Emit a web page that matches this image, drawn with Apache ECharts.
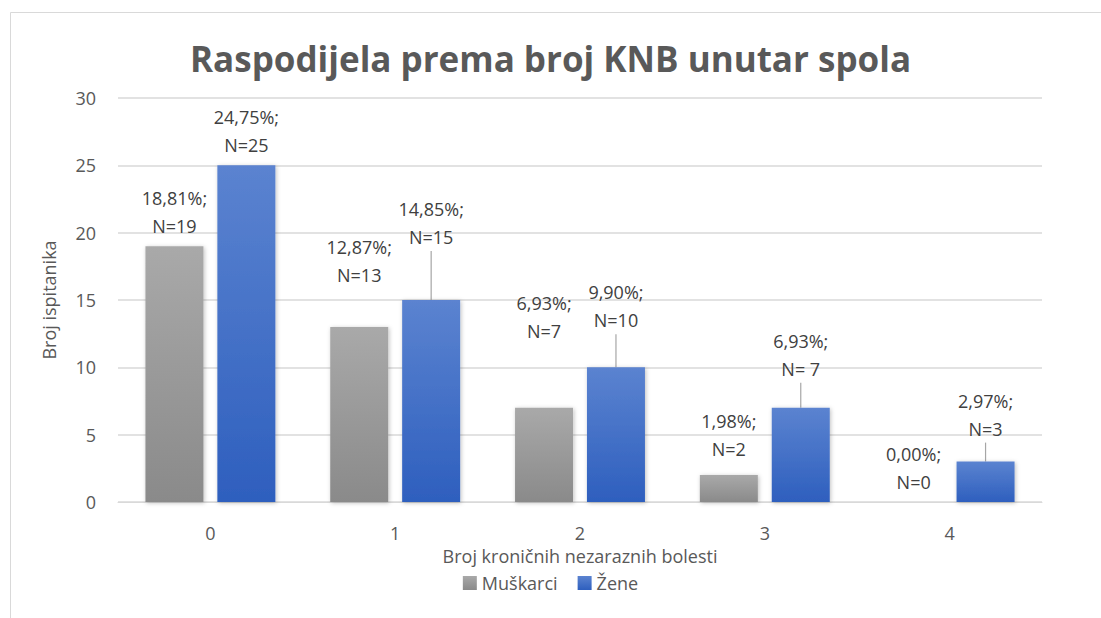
<!DOCTYPE html>
<html>
<head>
<meta charset="utf-8">
<script src="https://cdn.jsdelivr.net/npm/echarts@6/dist/echarts.min.js"></script>
<style>
  html, body { margin: 0; padding: 0; background: #fff; }
  #chart { width: 1101px; height: 618px; }
</style>
</head>
<body>
<div id="chart"></div>
<script>
var categories = ['0', '1', '2', '3', '4'];
var men = [19, 13, 7, 2, 0];
var women = [25, 15, 10, 7, 3];
var menPct = ['18,81%', '12,87%', '6,93%', '1,98%', '0,00%'];
var womenPct = ['24,75%', '14,85%', '9,90%', '6,93%', '2,97%'];
var womenN = ['N=25', 'N=15', 'N=10', 'N= 7', 'N=3'];
// label shifts (px)
var menShift = [0, -32, -57, -6, 0];
var womenShift = [0, -43, -27, -19, -13];

var font = '"Open Sans", "Liberation Sans", sans-serif';
var ink = '#404040';
var muted = '#595959';
var rule = '#d9d9d9';

var chart = echarts.init(document.getElementById('chart'), null, { renderer: 'svg' });

function grad(top, bottom) {
  return new echarts.graphic.LinearGradient(0, 0, 0, 1, [
    { offset: 0, color: top }, { offset: 1, color: bottom }
  ]);
}

var womenData = women.map(function(v, i) {
  return { value: v, labelLine: { show: womenShift[i] !== 0 } };
});

chart.setOption({
  animation: false,
  textStyle: { fontFamily: font },
  graphic: [{
    type: 'rect',
    shape: { x: 10.5, y: 12.5, width: 1200, height: 700 },
    style: { fill: 'none', stroke: rule, lineWidth: 1 },
    silent: true
  }],
  title: {
    text: 'Raspodijela prema broj KNB unutar spola',
    left: 'center',
    top: 36,
    textStyle: { fontFamily: font, fontSize: 35, fontWeight: 'bold', color: muted }
  },
  legend: {
    bottom: 21,
    left: 'center',
    itemWidth: 14,
    itemHeight: 14,
    itemGap: 20,
    icon: 'rect',
    textStyle: { fontFamily: font, fontSize: 18, color: muted },
    data: ['Muškarci', 'Žene']
  },
  grid: { left: 118, right: 59, top: 98, bottom: 116 },
  xAxis: {
    type: 'category',
    data: categories,
    name: 'Broj kroničnih nezaraznih bolesti',
    nameLocation: 'middle',
    nameGap: 45,
    nameTextStyle: { fontFamily: font, fontSize: 18, color: muted },
    axisLine: { lineStyle: { color: rule } },
    axisTick: { show: false },
    axisLabel: { color: muted, fontSize: 18, margin: 22 }
  },
  yAxis: {
    type: 'value',
    min: 0,
    max: 30,
    interval: 5,
    name: 'Broj ispitanika',
    nameLocation: 'middle',
    nameGap: 60,
    nameTextStyle: { fontFamily: font, fontSize: 18, color: muted },
    axisLine: { show: false },
    axisTick: { show: false },
    axisLabel: { color: muted, fontSize: 18, margin: 22 },
    splitLine: { lineStyle: { color: rule, width: 1.5 } }
  },
  series: [{
    name: 'Muškarci',
    type: 'bar',
    barWidth: 58,
    barGap: '24%',
    data: men,
    itemStyle: {
      color: grad('#a9a9a9', '#8a8a8a'),
      shadowColor: 'rgba(0,0,0,0.25)', shadowBlur: 4, shadowOffsetX: 1, shadowOffsetY: 1
    },
    label: {
      show: true,
      position: 'top',
      distance: 6,
      color: ink,
      fontSize: 18,
      lineHeight: 28,
      formatter: function(p) { return menPct[p.dataIndex] + ';\nN=' + men[p.dataIndex]; }
    },
    labelLayout: function(p) { return { dy: menShift[p.dataIndex] }; },
    labelLine: { show: false }
  }, {
    name: 'Žene',
    type: 'bar',
    barWidth: 58,
    data: womenData,
    itemStyle: {
      color: grad('#5b83d0', '#2e5fbe'),
      shadowColor: 'rgba(0,0,0,0.25)', shadowBlur: 4, shadowOffsetX: 1, shadowOffsetY: 1
    },
    label: {
      show: true,
      position: 'top',
      distance: 6,
      color: ink,
      fontSize: 18,
      lineHeight: 28,
      formatter: function(p) { return womenPct[p.dataIndex] + ';\n' + womenN[p.dataIndex]; }
    },
    labelLayout: function(p) { return { dy: womenShift[p.dataIndex] }; },
    labelLine: { show: true, lineStyle: { color: '#a6a6a6', width: 1.2 } }
  }]
});
</script>
</body>
</html>
